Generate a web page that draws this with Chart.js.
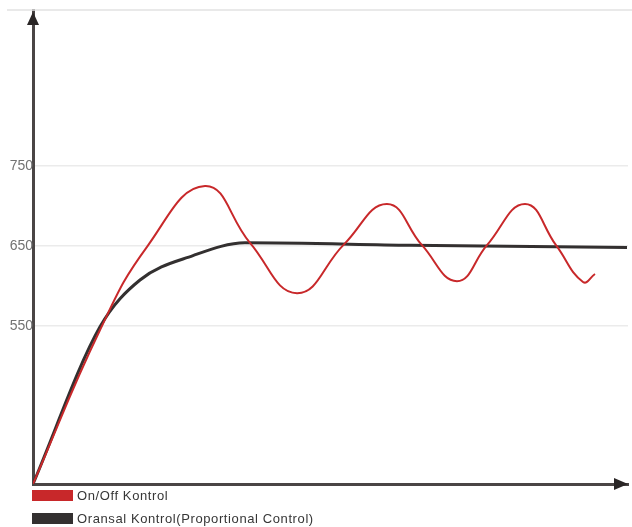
<!DOCTYPE html>
<html>
<head>
<meta charset="utf-8">
<script src="https://cdn.jsdelivr.net/npm/chart.js@4.4.1/dist/chart.umd.min.js"></script>
<style>
  html, body { margin: 0; padding: 0; background: #fff; }
  #wrap { position: relative; width: 632px; height: 527px; }
  #legend { position: absolute; left: 32px; top: 489px; font: 13px "Liberation Sans", Arial, sans-serif; letter-spacing: 0.6px; color: #363636; }
  #legend .item { display: flex; align-items: center; height: 12px; margin-bottom: 11px; }
  #legend .sw { width: 41px; height: 11px; margin-right: 4px; }
</style>
</head>
<body>
<div id="wrap">
  <canvas id="chart" width="632" height="527"></canvas>
  <div id="legend"></div>
</div>
<script>
// time axis is unitless
const seriesNames = ['On/Off Kontrol', 'Oransal Kontrol(Proportional Control)'];
const seriesColors = ['#c8282a', '#333030'];

const onOffX = [0, 67, 114, 172, 217, 264, 311, 354, 389, 424, 454, 492, 523, 550, 562];
const onOffY = [352.5, 545, 649, 725, 654, 591, 652, 702.5, 651, 606, 651, 702.5, 651, 605, 615];

const propX = [0, 67, 107, 160, 212, 377, 594];
const propY = [352.5, 549, 607.5, 638, 654, 651, 648];

const yTicks = [550, 650, 750];
const yMin = 352.5, yMax = 945;
const xMax = 595;

const toPoints = (xs, ys) => xs.map((x, i) => ({ x, y: ys[i] }));

const axisColor = '#4a4545';

// arrow heads + top rule
const arrows = {
  id: 'arrows',
  afterDraw(chart) {
    const { ctx, chartArea: a } = chart;
    ctx.save();
    ctx.strokeStyle = '#e2e2e2';
    ctx.lineWidth = 1.5;
    ctx.beginPath();
    ctx.moveTo(7, a.top);
    ctx.lineTo(chart.width, a.top);
    ctx.stroke();

    ctx.fillStyle = '#2a2626';
    // y arrow
    ctx.beginPath();
    ctx.moveTo(a.left, a.top + 2);
    ctx.lineTo(a.left - 6, a.top + 15);
    ctx.lineTo(a.left + 6, a.top + 15);
    ctx.closePath();
    ctx.fill();
    // x arrow
    ctx.beginPath();
    ctx.moveTo(a.right, a.bottom);
    ctx.lineTo(a.right - 14, a.bottom - 6);
    ctx.lineTo(a.right - 14, a.bottom + 6);
    ctx.closePath();
    ctx.fill();
    ctx.restore();
  }
};

const chart = new Chart(document.getElementById('chart'), {
  type: 'line',
  data: {
    datasets: [
      {
        label: seriesNames[0],
        data: toPoints(onOffX, onOffY),
        borderColor: seriesColors[0],
        backgroundColor: seriesColors[0],
        borderWidth: 2,
        pointRadius: 0,
        tension: 0.45
      },
      {
        label: seriesNames[1],
        data: toPoints(propX, propY),
        borderColor: seriesColors[1],
        backgroundColor: seriesColors[1],
        borderWidth: 3,
        pointRadius: 0,
        cubicInterpolationMode: 'monotone'
      }
    ]
  },
  options: {
    responsive: false,
    animation: false,
    layout: { padding: { top: 10, right: 4, bottom: 43, left: 0 } },
    plugins: { legend: { display: false }, tooltip: { enabled: false } },
    scales: {
      x: {
        type: 'linear',
        min: 0,
        max: xMax,
        ticks: { display: false },
        grid: { display: false, drawTicks: false },
        border: { color: axisColor, width: 3 },
        afterFit(s) { s.height = 0; }
      },
      y: {
        min: yMin,
        max: yMax,
        afterBuildTicks(s) { s.ticks = yTicks.map(v => ({ value: v })); },
        ticks: {
          padding: 0,
          color: '#727272',
          font: { family: 'Liberation Sans', size: 14 }
        },
        grid: { color: '#ebebeb', lineWidth: 1.5, drawTicks: false },
        border: { color: axisColor, width: 3 },
        afterFit(s) { s.width = 33; }
      }
    }
  },
  plugins: [arrows]
});

// html legend
const legend = document.getElementById('legend');
chart.data.datasets.forEach(ds => {
  const item = document.createElement('div');
  item.className = 'item';
  item.innerHTML = '<span class="sw" style="background:' + ds.borderColor + '"></span><span>' + ds.label + '</span>';
  legend.appendChild(item);
});
</script>
</body>
</html>
